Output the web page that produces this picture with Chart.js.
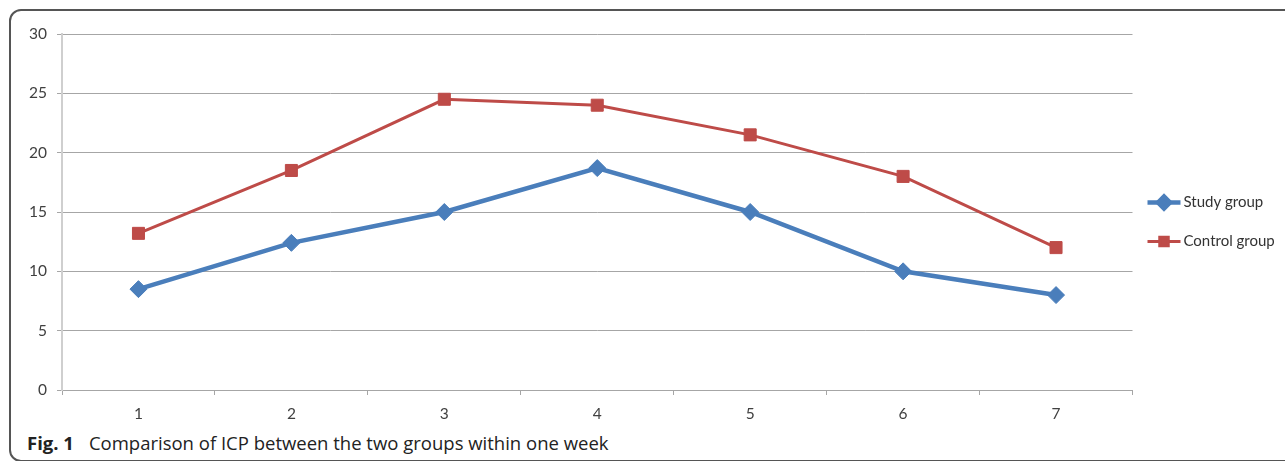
<!DOCTYPE html>
<html>
<head>
<meta charset="utf-8">
<script src="https://cdn.jsdelivr.net/npm/chart.js@4.4.1/dist/chart.umd.min.js"></script>
<style>
  html, body { margin: 0; padding: 0; background: #fff; overflow: hidden; }
  #frame {
    position: absolute; left: 9px; top: 9px; width: 1300px; height: 449px;
    border: 2px solid #555; border-radius: 12px;
  }
  #wrap { position: absolute; left: 0; top: 0; width: 1285px; height: 430px; }
  #caption {
    position: absolute; left: 27px; top: 432px;
    font-family: "Open Sans", sans-serif; font-size: 18.5px; line-height: 22px; color: #222;
    white-space: nowrap;
  }
  #caption b { margin-right: 15px; }
</style>
</head>
<body>
<div id="frame"></div>
<div id="wrap"><canvas id="chart"></canvas></div>
<div id="caption"><b>Fig. 1</b>Comparison of ICP between the two groups within one week</div>
<script>
const days = ['1', '2', '3', '4', '5', '6', '7'];
const studyGroup = [8.5, 12.4, 15, 18.7, 15, 10, 8];
const controlGroup = [13.2, 18.5, 24.5, 24, 21.5, 18, 12];
const yTicks = [0, 5, 10, 15, 20, 25, 30];

const tickFont = { family: 'Lato', size: 15.5 };

// legend drawn as line + marker like the office chart
const sideLegend = {
  id: 'sideLegend',
  afterDraw(chart) {
    const ctx = chart.ctx;
    const x0 = chart.chartArea.right + 15;
    const yMid = (chart.chartArea.top + chart.chartArea.bottom) / 2 + 10;
    chart.data.datasets.forEach((ds, i) => {
      const y = yMid + (i - 0.5) * 39;
      ctx.save();
      ctx.strokeStyle = ds.borderColor;
      ctx.lineWidth = ds.borderWidth;
      ctx.beginPath();
      ctx.moveTo(x0, y);
      ctx.lineTo(x0 + 33, y);
      ctx.stroke();
      ctx.fillStyle = ds.pointBackgroundColor;
      ctx.strokeStyle = ds.pointBackgroundColor;
      Chart.helpers.drawPoint(ctx, { pointStyle: ds.pointStyle, radius: ds.legendRadius, borderWidth: 1 }, x0 + 16.5, y);
      ctx.fillStyle = '#333';
      ctx.font = '15px Lato';
      ctx.textBaseline = 'middle';
      ctx.fillText(ds.label, x0 + 36, y);
      ctx.restore();
    });
  }
};

new Chart(document.getElementById('chart'), {
  type: 'line',
  data: {
    labels: days,
    datasets: [
      {
        label: 'Study group',
        data: studyGroup,
        borderColor: '#4a7ebb',
        backgroundColor: '#4a7ebb',
        pointBackgroundColor: '#4a7ebb',
        pointBorderColor: '#4a7ebb',
        borderWidth: 4.5,
        pointStyle: 'rectRot',
        pointRadius: 8.5,
        pointBorderWidth: 1,
        legendRadius: 6,
        tension: 0
      },
      {
        label: 'Control group',
        data: controlGroup,
        borderColor: '#be4b48',
        backgroundColor: '#be4b48',
        pointBackgroundColor: '#be4b48',
        pointBorderColor: '#be4b48',
        borderWidth: 3,
        pointStyle: 'rect',
        pointRadius: 8.5,
        pointBorderWidth: 1,
        legendRadius: 6,
        tension: 0
      }
    ]
  },
  options: {
    responsive: true,
    maintainAspectRatio: false,
    animation: false,
    layout: { padding: { left: 0, top: 34, right: 152.5, bottom: 0 } },
    plugins: {
      legend: { display: false },
      tooltip: { enabled: false }
    },
    scales: {
      x: {
        offset: true,
        afterFit: (s) => { s.height = 40; },
        grid: { offset: true, drawOnChartArea: false, drawTicks: true, tickLength: 5, color: '#a6a6a6' },
        border: { color: '#a6a6a6', width: 1 },
        ticks: { font: tickFont, color: '#404040', padding: 10 }
      },
      y: {
        min: 0,
        max: 30,
        afterFit: (s) => { s.width = 62; },
        afterBuildTicks: (s) => { s.ticks = yTicks.map(v => ({ value: v })); },
        grid: { color: '#a6a6a6', tickLength: 5, drawTicks: true },
        border: { color: '#cfcfcf', width: 2 },
        ticks: { font: tickFont, color: '#404040', padding: 10 }
      }
    }
  },
  plugins: [sideLegend]
});
</script>
</body>
</html>
